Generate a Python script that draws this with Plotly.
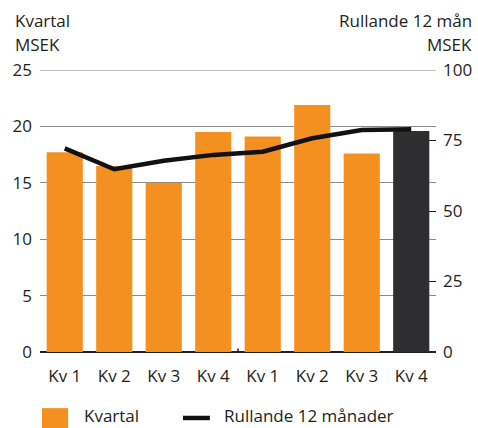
import plotly.graph_objects as go

# quarterly result (MSEK, left axis) and rolling 12 months (MSEK, right axis)
kvartal_labels = ["Kv 1", "Kv 2", "Kv 3", "Kv 4", "Kv 1", "Kv 2", "Kv 3", "Kv 4"]
kvartal = [17.7, 16.5, 15.0, 19.5, 19.1, 21.9, 17.6, 19.6]
rullande = [72.2, 64.8, 67.8, 69.9, 71.0, 75.8, 78.7, 79.0]
left_ticks = [0, 5, 10, 15, 20, 25]
right_ticks = [0, 25, 50, 75, 100]

ORANGE = "#F39020"
DARK = "#2E2E30"
bar_colors = [ORANGE] * 7 + [DARK]

FONT = "Open Sans"
TXT = "#231F20"
GRID = "#8A8A8A"

x = list(range(len(kvartal)))

fig = go.Figure()
fig.add_trace(go.Bar(
    x=x, y=kvartal, name="Kvartal",
    marker=dict(color=bar_colors, line_width=0),
    width=0.73, yaxis="y",
))
fig.add_trace(go.Scatter(
    x=x, y=rullande, name="Rullande 12 månader",
    mode="lines", line=dict(color="#111111", width=4.5),
    yaxis="y2",
))

# top gridline (plotly drops the one sitting on the range edge)
fig.add_shape(type="line", xref="paper", yref="y", x0=0, x1=1,
              y0=left_ticks[-1], y1=left_ticks[-1], line=dict(color=GRID, width=1),
              layer="below")
# year separator on the baseline
fig.add_shape(type="line", xref="x", yref="y", x0=3.5, x1=3.5, y0=-0.3, y1=0.3,
              line=dict(color=TXT, width=1.5))

fig.update_layout(
    width=478, height=428,
    margin=dict(l=40, r=42, t=70, b=76, autoexpand=False),
    plot_bgcolor="white", paper_bgcolor="white",
    font=dict(family=FONT, size=17, color=TXT),
    showlegend=False,
    xaxis=dict(
        range=[-0.5, 7.5], tickvals=x, ticktext=kvartal_labels,
        showgrid=False, zeroline=False, showline=False, ticks="",
        tickfont=dict(size=17), ticklabelstandoff=12, automargin=False,
    ),
    yaxis=dict(
        range=[0, 25], tickvals=left_ticks,
        showgrid=True, gridcolor=GRID, gridwidth=1,
        zeroline=True, zerolinecolor=TXT, zerolinewidth=1.5,
        ticks="", tickfont=dict(size=17), ticklabelstandoff=7, automargin=False,
    ),
    yaxis2=dict(
        range=[0, 100], tickvals=right_ticks, overlaying="y", side="right",
        showgrid=False, zeroline=False, ticks="inside", ticklen=7,
        tickcolor=TXT, tickfont=dict(size=17), ticklabelstandoff=6, automargin=False,
    ),
)

# axis titles
for txt, xp, yp, anchor in [
    ("Kvartal", -0.068, 1.177, "left"),
    ("MSEK", -0.068, 1.089, "left"),
    ("Rullande 12 mån", 1.096, 1.177, "right"),
    ("MSEK", 1.096, 1.089, "right"),
]:
    fig.add_annotation(text=txt, xref="paper", yref="paper", x=xp, y=yp,
                       xanchor=anchor, yanchor="middle", showarrow=False,
                       font=dict(size=17))

# legend drawn by hand to match the larger swatches
fig.add_shape(type="rect", xref="paper", yref="paper", x0=0.005, x1=0.071,
              y0=-0.28, y1=-0.199, fillcolor=ORANGE, line_width=0)
fig.add_annotation(text="Kvartal", xref="paper", yref="paper", x=0.106, y=-0.225,
                   xanchor="left", yanchor="middle", showarrow=False, font=dict(size=17))
fig.add_shape(type="line", xref="paper", yref="paper", x0=0.361, x1=0.429,
              y0=-0.234, y1=-0.234, line=dict(color="#111111", width=4.5))
fig.add_annotation(text="Rullande 12 månader", xref="paper", yref="paper", x=0.46,
                   y=-0.225, xanchor="left", yanchor="middle", showarrow=False,
                   font=dict(size=17))

fig.write_html("out.html", post_script="document.body.style.margin='0';",
               config={"displayModeBar": False})
